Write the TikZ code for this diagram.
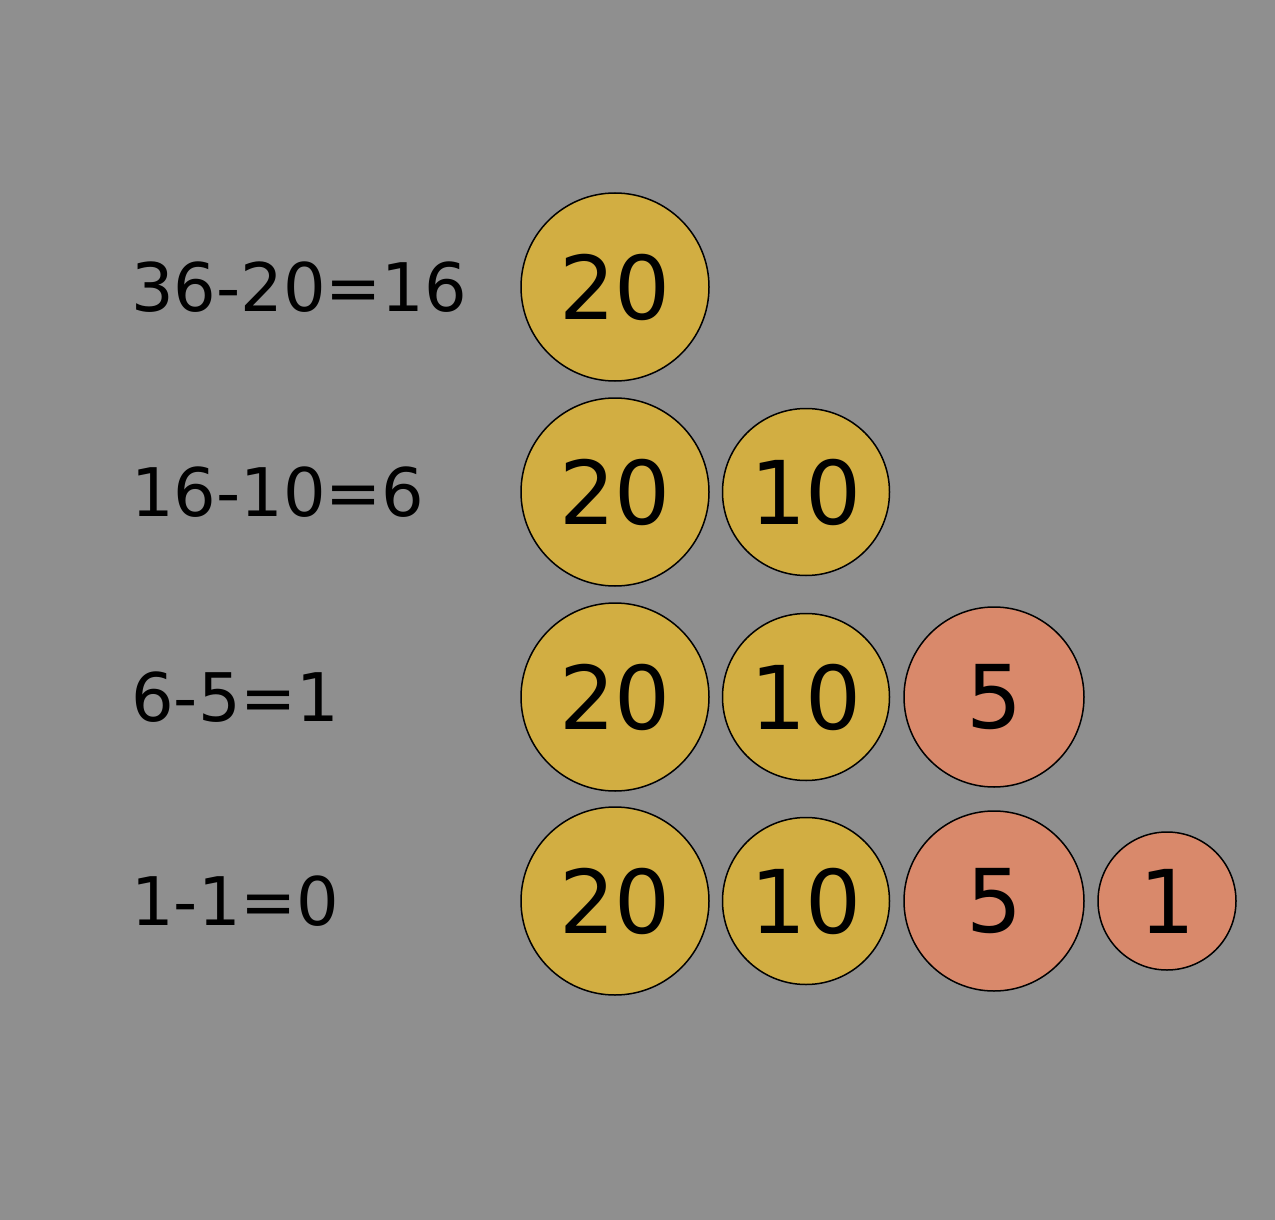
\documentclass[tikz,border=0pt]{standalone}
\usepackage{fontspec}
\setmainfont{DejaVu Sans}
\definecolor{bg}{RGB}{143,143,143}
\definecolor{gold}{RGB}{210,174,66}
\definecolor{salmon}{RGB}{217,137,107}
\tikzset{
  coin/.style={circle, draw=black, line width=1.5pt, inner sep=0pt, font=\fontsize{88}{88}\selectfont},
  big/.style={coin, fill=gold, minimum size=188pt},
  mid/.style={coin, fill=gold, minimum size=167pt},
  five/.style={coin, fill=salmon, minimum size=180pt},
  one/.style={coin, fill=salmon, minimum size=138pt},
  eqn/.style={anchor=base west, inner sep=0pt, font=\fontsize{67}{67}\selectfont}
}
\begin{document}
\begin{tikzpicture}[x=1pt,y=-1pt]
\fill[bg] (0,0) rectangle (1275,1220);
\useasboundingbox (0,0) rectangle (1275,1220);
% row 1
\node[eqn] (e1) at (131,311) {36-20=16};
\node[big] (a1) at (615,287) {20};
% row 2
\node[eqn] (e2) at (131,516) {16-10=6};
\node[big] (a2) at (615,492) {20};
\node[mid] (b2) at (806,492) {10};
% row 3
\node[eqn] (e3) at (131,721) {6-5=1};
\node[big] (a3) at (615,697) {20};
\node[mid] (b3) at (806,697) {10};
\node[five] (c3) at (994,697) {5};
% row 4
\node[eqn] (e4) at (131,925) {1-1=0};
\node[big] (a4) at (615,901) {20};
\node[mid] (b4) at (806,901) {10};
\node[five] (c4) at (994,901) {5};
\node[one] (d4) at (1167,901) {1};
\end{tikzpicture}
\end{document}
